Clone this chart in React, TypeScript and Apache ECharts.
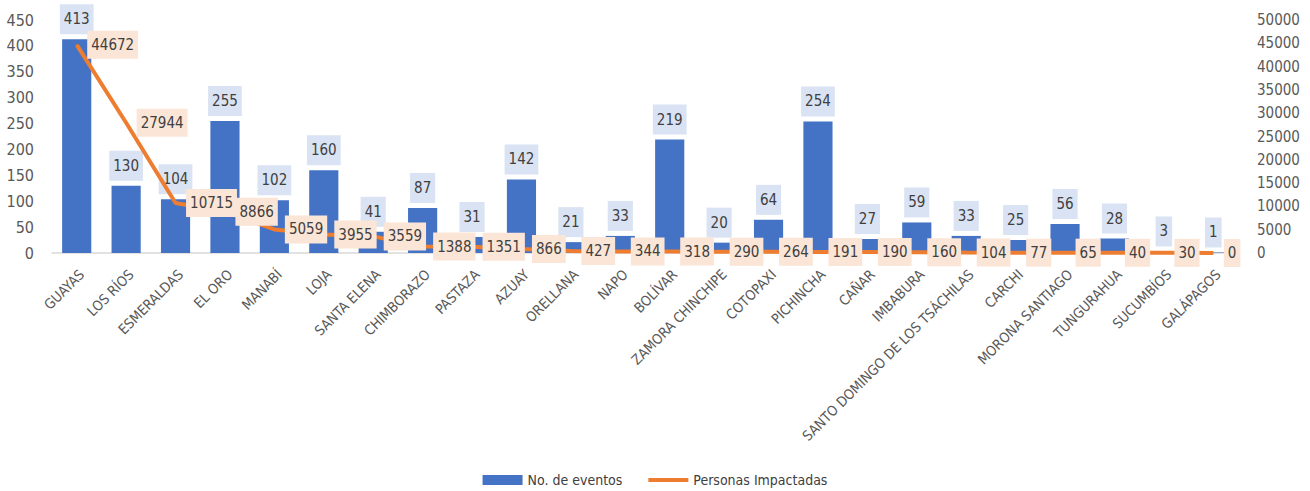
import React, { useEffect, useRef } from "react";
import * as echarts from "echarts";

const categories = [
  "GUAYAS", "LOS RÍOS", "ESMERALDAS", "EL ORO", "MANABÍ", "LOJA", "SANTA ELENA",
  "CHIMBORAZO", "PASTAZA", "AZUAY", "ORELLANA", "NAPO", "BOLÍVAR", "ZAMORA CHINCHIPE",
  "COTOPAXI", "PICHINCHA", "CAÑAR", "IMBABURA", "SANTO DOMINGO DE LOS TSÁCHILAS",
  "CARCHI", "MORONA SANTIAGO", "TUNGURAHUA", "SUCUMBÍOS", "GALÁPAGOS",
];
const eventos = [413, 130, 104, 255, 102, 160, 41, 87, 31, 142, 21, 33, 219, 20, 64, 254, 27, 59, 33, 25, 56, 28, 3, 1];
const personas = [44672, 27944, 10715, 8866, 5059, 3955, 3559, 1388, 1351, 866, 427, 344, 318, 290, 264, 191, 190, 160, 104, 77, 65, 40, 30, 0];
const leftTicks = { min: 0, max: 450, interval: 50 };
const rightTicks = { min: 0, max: 50000, interval: 5000 };

const FONT = "'Liberation Sans Narrow', 'DejaVu Sans Condensed', 'Roboto Condensed', Roboto, sans-serif";

export default function App() {
  const ref = useRef<HTMLDivElement>(null);
  useEffect(() => {
    if (!ref.current) return;
    const chart = echarts.init(ref.current, null, { renderer: "svg" });
    chart.setOption({
      animation: false,
      textStyle: { fontFamily: FONT },
      grid: { left: 52, right: 72, top: 20, bottom: 238, containLabel: false },
      legend: {
        top: 468,
        left: "center",
        itemWidth: 40,
        itemHeight: 10,
        itemGap: 26,
        textStyle: { fontFamily: FONT, fontSize: 14, color: "#404040" },
        data: [
          { name: "No. de eventos", icon: "rect" },
          { name: "Personas Impactadas", icon: "path://M0 0 L40 0 L40 4 L0 4 Z" },
        ],
      },
      xAxis: {
        type: "category",
        data: categories,
        axisLine: { lineStyle: { color: "#D9D9D9", width: 1.5 } },
        axisTick: { show: false },
        axisLabel: {
          rotate: 45,
          interval: 0,
          margin: 14,
          verticalAlign: "top",
          fontFamily: FONT,
          fontSize: 14,
          color: "#595959",
        },
      },
      yAxis: [
        {
          type: "value",
          min: leftTicks.min,
          max: leftTicks.max,
          interval: leftTicks.interval,
          splitLine: { show: false },
          axisLine: { show: false },
          axisTick: { show: false },
          axisLabel: { fontFamily: FONT, fontSize: 16, color: "#595959", margin: 18 },
        },
        {
          type: "value",
          min: rightTicks.min,
          max: rightTicks.max,
          interval: rightTicks.interval,
          splitLine: { show: false },
          axisLine: { show: false },
          axisTick: { show: false },
          axisLabel: {
            fontFamily: FONT,
            fontSize: 15,
            color: "#595959",
            margin: 19,
            formatter: (v: number) => String(v),
          },
        },
      ],
      series: [
        {
          name: "No. de eventos",
          type: "bar",
          data: eventos,
          yAxisIndex: 0,
          barWidth: "59%",
          itemStyle: { color: "#4472C4" },
          label: {
            show: true,
            position: "top",
            distance: 5,
            fontFamily: FONT,
            fontSize: 15,
            lineHeight: 18,
            color: "#404040",
            backgroundColor: "#DAE3F3",
            padding: [6, 4, 6, 4],
          },
        },
        {
          name: "Personas Impactadas",
          type: "line",
          data: personas,
          yAxisIndex: 1,
          symbol: "circle",
          symbolSize: 1,
          itemStyle: { color: "#ED7D31" },
          lineStyle: { color: "#ED7D31", width: 4 },
          z: 3,
          label: {
            show: true,
            position: "right",
            distance: 10,
            fontFamily: FONT,
            fontSize: 15,
            lineHeight: 18,
            color: "#404040",
            backgroundColor: "#FBE5D6",
            padding: [5, 4, 5, 4],
          },
        },
      ],
    });
    return () => chart.dispose();
  }, []);
  return (
    <div
      ref={ref}
      style={{ position: "absolute", left: 0, top: 0, width: 1310, height: 491 }}
    />
  );
}
